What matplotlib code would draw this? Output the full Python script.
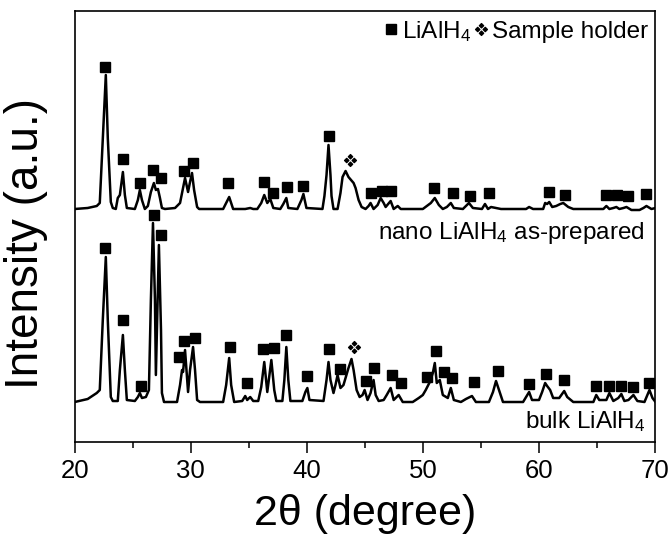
import numpy as np
import matplotlib
matplotlib.use("Agg")
import matplotlib.pyplot as plt
from matplotlib.path import Path
from matplotlib.lines import Line2D
from matplotlib.ticker import MultipleLocator

plt.rcParams["font.family"] = ["Liberation Sans", "DejaVu Sans"]
plt.rcParams["mathtext.default"] = "regular"

# nano LiAlH4 as-prepared: 2theta (deg), intensity above its baseline (a.u.)
nano_2theta = [20.00, 21.12, 21.90, 22.16, 22.42, 22.68, 22.85, 23.11, 23.28, 23.54,
               23.71, 23.89, 24.15, 24.32, 24.49, 25.18, 25.44, 25.61, 25.79, 26.04,
               26.30, 26.56, 26.82, 26.99, 27.17, 27.34, 27.51, 27.77, 28.64, 29.07,
               29.33, 29.50, 29.76, 29.93, 30.10, 30.28, 30.54, 30.71, 32.78, 33.04,
               33.30, 33.47, 33.64, 34.68, 35.11, 35.37, 35.72, 36.06, 36.32, 36.58,
               36.84, 37.10, 37.70, 37.96, 38.22, 38.39, 39.17, 39.52, 39.69, 39.95,
               41.33, 41.50, 41.68, 41.85, 42.02, 42.11, 42.28, 42.63, 42.88, 43.06,
               43.32, 43.57, 44.01, 44.18, 44.44, 44.70, 45.04, 45.30, 45.47, 45.73,
               46.08, 46.34, 46.60, 46.77, 47.20, 47.46, 47.81, 48.07, 49.97, 50.32,
               50.66, 51.00, 51.35, 51.69, 52.04, 52.38, 52.64, 53.42, 53.68, 53.94,
               54.28, 55.06, 55.32, 55.58, 55.84, 56.27, 56.70, 58.86, 59.12, 59.46,
               60.33, 60.50, 60.67, 60.85, 61.11, 61.45, 61.80, 62.06, 62.49, 62.92,
               65.51, 65.77, 66.03, 66.37, 66.63, 66.89, 67.24, 67.50, 67.93, 68.62,
               68.96, 69.22, 69.65, 70.00]
nano_int = [0, 1, 3, 6, 71, 134, 71, 7, 1, 0,
            11, 14, 37, 14, 1, 0, 9, 19, 9, 0,
            3, 17, 26, 19, 20, 11, 1, 0, 1, 6,
            21, 31, 17, 27, 36, 19, 2, 0, 0, 6,
            12, 6, 0, 0, 1, 0, 0, 6, 14, 6,
            10, 1, 0, 5, 11, 1, 0, 9, 15, 1,
            0, 13, 34, 64, 34, 13, 0, 0, 16, 32,
            38, 32, 26, 21, 9, 2, 0, 3, 6, 0,
            4, 11, 6, 2, 8, 0, 3, 0, 0, 3,
            6, 11, 4, 0, 2, 6, 1, 0, 3, 6,
            1, 0, 5, 0, 2, 1, 0, 0, 2, 0,
            0, 6, 5, 7, 2, 3, 5, 6, 2, 0,
            0, 3, 0, 1, 2, 0, 1, 2, -1, -1,
            1, 3, 0, 1]

# bulk LiAlH4
bulk_2theta = [20.00, 21.12, 21.90, 22.16, 22.42, 22.68, 22.85, 23.11, 23.28, 23.71,
               23.89, 24.15, 24.32, 24.49, 25.18, 25.44, 25.61, 25.79, 26.13, 26.39,
               26.56, 26.74, 26.91, 26.99, 27.08, 27.25, 27.43, 27.51, 27.69, 28.81,
               29.07, 29.24, 29.33, 29.50, 29.76, 29.93, 30.19, 30.36, 30.54, 30.79,
               32.78, 33.04, 33.30, 33.47, 33.73, 34.42, 34.68, 34.85, 35.11, 35.37,
               35.80, 36.06, 36.32, 36.58, 36.93, 37.18, 37.36, 37.88, 38.05, 38.22,
               38.39, 38.57, 39.60, 39.86, 40.03, 40.21, 41.42, 41.68, 41.85, 42.02,
               42.28, 42.45, 42.63, 42.88, 43.14, 43.57, 43.83, 44.01, 44.27, 44.53,
               44.78, 44.96, 45.21, 45.47, 45.73, 45.91, 46.17, 46.60, 46.86, 47.20,
               47.46, 47.72, 47.89, 48.24, 49.10, 49.62, 49.97, 50.22, 50.57, 50.83,
               51.00, 51.17, 51.43, 51.69, 52.12, 52.38, 52.64, 53.25, 53.68, 54.20,
               54.54, 55.66, 56.01, 56.27, 56.53, 56.87, 58.60, 58.86, 59.12, 59.37,
               59.97, 60.24, 60.50, 60.67, 60.93, 61.19, 61.71, 62.14, 62.40, 62.92,
               64.65, 64.90, 65.16, 65.77, 66.03, 66.37, 66.80, 67.06, 67.32, 67.67,
               68.10, 68.44, 69.05, 69.48, 69.74, 70.00]
bulk_int = [0, 3, 9, 12, 82, 145, 82, 5, 1, 1,
            32, 67, 32, 2, 1, 5, 9, 4, 5, 12,
            102, 179, 102, 27, 72, 157, 72, 9, 0, 0,
            17, 32, 30, 52, 10, 32, 55, 32, 2, 0,
            0, 17, 44, 17, 0, 1, 6, 2, 5, 1,
            1, 15, 40, 10, 42, 12, 1, 1, 22, 55,
            22, 1, 1, 10, 14, 2, 1, 22, 40, 22,
            9, 17, 27, 14, 17, 34, 43, 32, 12, 5,
            7, 12, 2, 9, 22, 7, 1, 2, 7, 14,
            2, 5, 7, 0, 0, 4, 7, 12, 20, 29,
            39, 19, 22, 7, 4, 14, 2, 0, 3, 6,
            0, 0, 10, 21, 12, 0, 0, 5, 10, 2,
            2, 10, 19, 16, 12, 4, 4, 11, 5, 0,
            0, 7, 2, 2, 9, 1, 4, 8, 1, 2,
            7, 1, 0, 12, 4, 0]

# vertical offsets of the two patterns
nano_offset = 233
bulk_offset = 40

# reflection labels: LiAlH4 (squares) and sample holder (diamond)
nano_lialh4_2theta = [22.59, 24.15, 25.61, 26.74, 27.43, 29.41, 30.19, 33.21, 36.32, 37.10,
                      38.31, 39.69, 41.93, 45.47, 46.42, 47.20, 50.92, 52.56, 54.02, 55.66,
                      60.85, 62.23, 65.77, 66.72, 67.67, 69.22]
nano_lialh4_int = [142, 50, 26, 39, 31, 38, 46, 26, 27, 16,
                   22, 23, 73, 16, 18, 18, 21, 16, 13, 16,
                   17, 14, 14, 14, 13, 15]
nano_holder_2theta = [43.66]
nano_holder_int = [49]

bulk_lialh4_2theta = [22.59, 24.15, 25.70, 26.82, 27.43, 28.98, 29.41, 30.36, 33.39, 34.85,
                      36.23, 37.18, 38.22, 40.03, 41.93, 42.80, 45.04, 45.73, 47.29, 48.07,
                      50.31, 51.09, 51.78, 52.47, 54.37, 56.44, 59.12, 60.59, 62.14, 64.90,
                      66.03, 67.06, 68.10, 69.48]
bulk_lialh4_int = [154, 82, 16, 187, 167, 45, 61, 64, 55, 19,
                   53, 54, 67, 26, 53, 33, 21, 34, 27, 19,
                   25, 51, 30, 24, 20, 31, 18, 28, 22, 16,
                   16, 16, 15, 19]
bulk_holder_2theta = [44.01]
bulk_holder_int = [55]

# four small diamonds arranged as a diamond (sample holder symbol)
verts, codes = [], []
for cx, cy in [(0, 0.5), (0, -0.5), (0.5, 0), (-0.5, 0)]:
    s = 0.28
    verts += [(cx, cy + s), (cx + s, cy), (cx, cy - s), (cx - s, cy), (cx, cy + s)]
    codes += [Path.MOVETO, Path.LINETO, Path.LINETO, Path.LINETO, Path.CLOSEPOLY]
holder_marker = Path(verts, codes)

fig = plt.figure(figsize=(6.71, 5.37), dpi=100)
ax = fig.add_axes([0.1113, 0.1769, 0.8656, 0.8017])

ax.plot(nano_2theta, np.array(nano_int) + nano_offset, color="black", lw=1.8,
        solid_joinstyle="round")
ax.plot(bulk_2theta, np.array(bulk_int) + bulk_offset, color="black", lw=1.8,
        solid_joinstyle="round")

ax.plot(nano_lialh4_2theta, np.array(nano_lialh4_int) + nano_offset, "s",
        color="black", ms=7, ls="none")
ax.plot(bulk_lialh4_2theta, np.array(bulk_lialh4_int) + bulk_offset, "s",
        color="black", ms=7, ls="none")
ax.plot(nano_holder_2theta, np.array(nano_holder_int) + nano_offset,
        marker=holder_marker, color="black", ms=8.5, ls="none")
ax.plot(bulk_holder_2theta, np.array(bulk_holder_int) + bulk_offset,
        marker=holder_marker, color="black", ms=8.5, ls="none")

ax.text(0.982, 0.4715, "nano LiAlH$_4$ as-prepared", transform=ax.transAxes,
        ha="right", va="baseline", fontsize=17.5)
ax.text(0.982, 0.0325, "bulk LiAlH$_4$", transform=ax.transAxes,
        ha="right", va="baseline", fontsize=17.5)

handles = [Line2D([], [], ls="none", marker="s", color="black", ms=7, label="LiAlH$_4$"),
           Line2D([], [], ls="none", marker=holder_marker, color="black", ms=8.5,
                  label="Sample holder")]
ax.legend(handles=handles, ncol=2, loc="upper right", frameon=False, fontsize=17.5,
          handlelength=0.6, handletextpad=0.15, columnspacing=0.1,
          borderaxespad=0.1, borderpad=0.2)

ax.set_xlim(20, 70)
ax.set_ylim(0, 430.5)
ax.xaxis.set_major_locator(MultipleLocator(10))
ax.xaxis.set_minor_locator(MultipleLocator(5))
ax.tick_params(axis="x", which="major", direction="out", length=8, width=1.1,
               labelsize=18.5, pad=4)
ax.tick_params(axis="x", which="minor", direction="out", length=4, width=1.1)
ax.set_yticks([])
for sp in ax.spines.values():
    sp.set_linewidth(1.2)

ax.set_xlabel("2θ (degree)", fontsize=31, labelpad=8)
ax.set_ylabel("Intensity (a.u.)", fontsize=33)
ax.yaxis.set_label_coords(-0.046, 0.46)

fig.savefig("out.png", dpi=100)
